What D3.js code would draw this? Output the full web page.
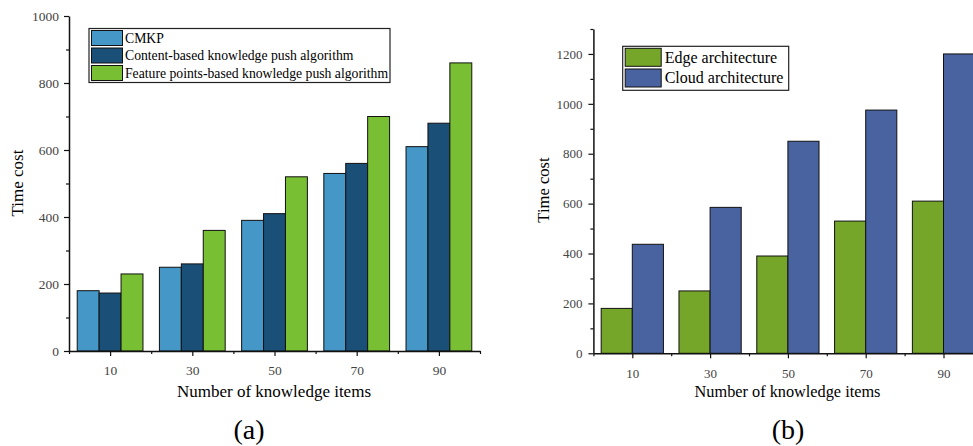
<!DOCTYPE html>
<html>
<head>
<meta charset="utf-8">
<script src="https://cdn.jsdelivr.net/npm/d3@7"></script>
<style>
  html, body { margin: 0; padding: 0; background: #fff; }
  svg { display: block; }
  svg text { font-family: "Liberation Serif", "Times New Roman", serif; }
</style>
</head>
<body>
<svg id="chart" width="973" height="446"></svg>
<script>
// Number of knowledge items on the x axis
const knowledgeItems = [10, 30, 50, 70, 90];

// (a) time cost of the three push algorithms
const cmkp = [180, 250, 390, 530, 610];
const contentBased = [173, 260, 410, 560, 680];
const featureBased = [230, 360, 520, 700, 860];

// (b) time cost of the two architectures
const edgeArch = [180, 250, 390, 530, 610];
const cloudArch = [437, 585, 850, 975, 1200];

// Axis ticks
const yTicksA = [0, 200, 400, 600, 800, 1000];
const yMinorA = [100, 300, 500, 700, 900];
const yTicksB = [0, 200, 400, 600, 800, 1000, 1200];
const yMinorB = [100, 300, 500, 700, 900, 1100, 1300];
const xMinor = [0, 20, 40, 60, 80, 100];

const SERIF = "Liberation Serif, Times New Roman, serif";
const svg = d3.select("#chart");

function drawPanel(cfg) {
  const g = svg.append("g").attr("font-family", SERIF);
  const x = d3.scaleLinear().domain([0, 100]).range(cfg.xRange);
  const y = d3.scaleLinear().domain(cfg.yDomain).range(cfg.yRange);

  // bars: each group spans 16 units around its category
  const groupW = x(16) - x(0);
  const sub = d3.scaleBand().domain(cfg.series.map(s => s.name)).range([0, groupW]);
  cfg.series.forEach(s => {
    g.append("g").selectAll("rect")
      .data(knowledgeItems.map((k, i) => ({ k, v: s.values[i] })))
      .join("rect")
      .attr("x", d => x(d.k) - groupW / 2 + sub(s.name))
      .attr("y", d => y(d.v))
      .attr("width", sub.bandwidth())
      .attr("height", d => y(0) - y(d.v))
      .attr("fill", s.color)
      .attr("stroke", "#111")
      .attr("stroke-width", 1);
  });

  const fmt = d3.format("d");

  // y axis
  g.append("g").attr("transform", `translate(${cfg.xRange[0]},0)`)
    .call(d3.axisLeft(y).tickValues(cfg.yTicks).tickFormat(fmt)
      .tickSize(5).tickSizeOuter(0).tickPadding(cfg.yPad));
  g.append("g").attr("transform", `translate(${cfg.xRange[0]},0)`)
    .call(d3.axisLeft(y).tickValues(cfg.yMinor).tickSize(3).tickSizeOuter(0).tickFormat(""))
    .select(".domain").remove();

  // x axis
  g.append("g").attr("transform", `translate(0,${cfg.yRange[0]})`)
    .call(d3.axisBottom(x).tickValues(knowledgeItems).tickFormat(fmt)
      .tickSize(5).tickSizeOuter(0).tickPadding(cfg.xPad));
  g.append("g").attr("transform", `translate(0,${cfg.yRange[0]})`)
    .call(d3.axisBottom(x).tickValues(xMinor).tickSize(3).tickSizeOuter(0).tickFormat(""))
    .select(".domain").remove();

  g.selectAll("g").attr("font-family", SERIF);
  g.selectAll(".domain").attr("stroke", "#111").attr("stroke-width", 1.5);
  g.selectAll(".tick line").attr("stroke", "#111").attr("stroke-width", 1.2);
  g.selectAll(".tick text")
    .attr("fill", "#444")
    .attr("font-family", SERIF)
    .attr("font-size", cfg.tickFont);

  // axis titles
  g.append("text")
    .attr("transform", `translate(${cfg.yTitleX},${cfg.yTitleY}) rotate(-90)`)
    .attr("text-anchor", "middle")
    .attr("font-size", cfg.yTitleFont)
    .text("Time cost");
  g.append("text")
    .attr("x", cfg.xTitleX).attr("y", cfg.xTitleY)
    .attr("text-anchor", "middle")
    .attr("font-size", cfg.xTitleFont)
    .text("Number of knowledge items");

  // panel caption
  g.append("text")
    .attr("x", cfg.capX).attr("y", 439)
    .attr("text-anchor", "middle")
    .attr("font-size", 28)
    .text(cfg.caption);

  // legend
  const L = cfg.legend;
  const lg = g.append("g");
  lg.append("rect")
    .attr("x", L.x).attr("y", L.y).attr("width", L.w).attr("height", L.h)
    .attr("fill", "#fff").attr("stroke", "#222").attr("stroke-width", 1.2);
  cfg.series.forEach((s, i) => {
    lg.append("rect")
      .attr("x", L.x + 2.5).attr("y", L.y + 2 + i * L.pitch)
      .attr("width", L.sw).attr("height", L.sh)
      .attr("fill", s.color).attr("stroke", "#111").attr("stroke-width", 1);
    lg.append("text")
      .attr("x", L.x + L.tx).attr("y", L.y + 2 + i * L.pitch + L.sh / 2)
      .attr("dy", "0.33em")
      .attr("font-size", L.font)
      .text(s.name);
  });
}

drawPanel({
  xRange: [69, 480],
  yDomain: [0, 1000],
  yRange: [351, 16],
  yTicks: yTicksA,
  yMinor: yMinorA,
  yPad: 5,
  xPad: 9,
  tickFont: 13.5,
  series: [
    { name: "CMKP", values: cmkp, color: "#4497c7" },
    { name: "Content-based knowledge push algorithm", values: contentBased, color: "#1a5078" },
    { name: "Feature points-based knowledge push algorithm", values: featureBased, color: "#78bf33" }
  ],
  yTitleX: 23, yTitleY: 183, yTitleFont: 17,
  xTitleX: 274, xTitleY: 397, xTitleFont: 17,
  capX: 249, caption: "(a)",
  legend: { x: 89, y: 28.5, w: 301, h: 54, sw: 31, sh: 15, pitch: 17.5, tx: 36, font: 13.7 }
});

drawPanel({
  xRange: [593.4, 982.4],
  yDomain: [0, 1300],
  yRange: [353.3, 29],
  yTicks: yTicksB,
  yMinor: yMinorB,
  yPad: 6,
  xPad: 10,
  tickFont: 13,
  series: [
    { name: "Edge architecture", values: edgeArch, color: "#76a629" },
    { name: "Cloud architecture", values: cloudArch, color: "#4863a0" }
  ],
  yTitleX: 549, yTitleY: 190, yTitleFont: 16.6,
  xTitleX: 787.5, xTitleY: 397, xTitleFont: 16.3,
  capX: 788, caption: "(b)",
  legend: { x: 622.7, y: 46.3, w: 166, h: 44, sw: 36, sh: 18, pitch: 20.7, tx: 42, font: 16 }
});
</script>
</body>
</html>
